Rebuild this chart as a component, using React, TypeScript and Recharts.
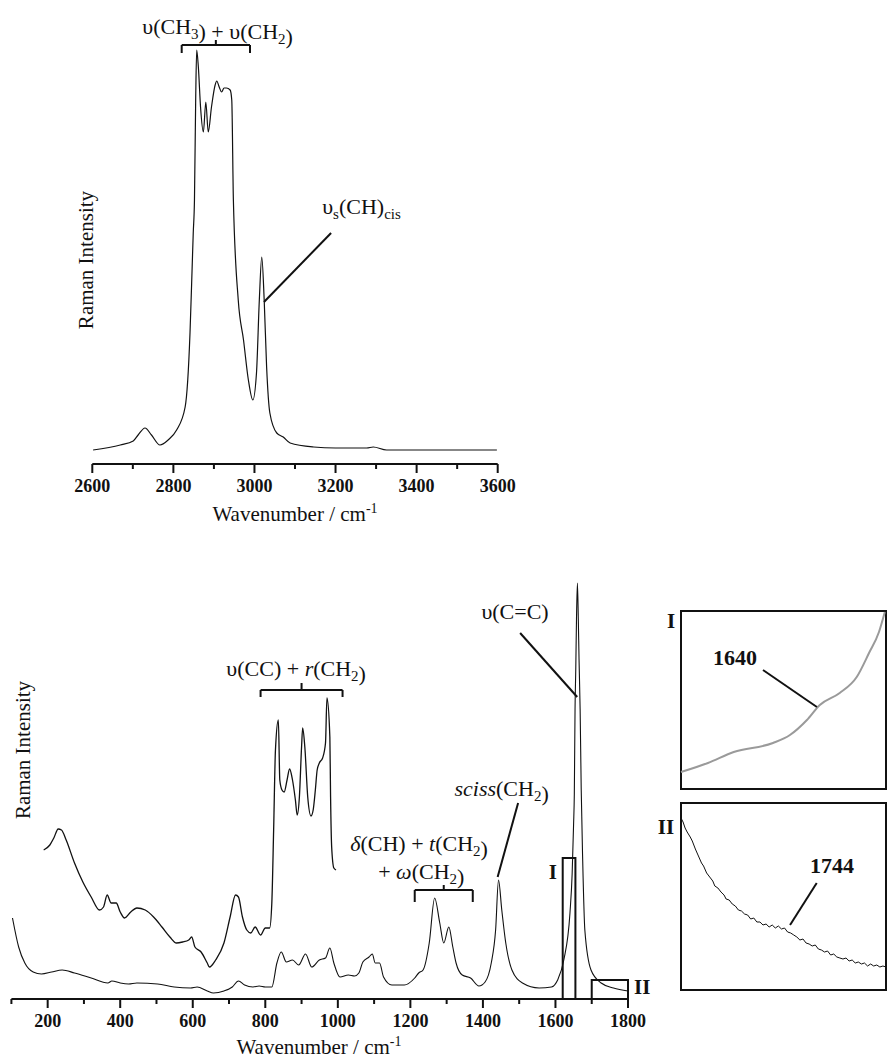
import React from 'react';
import { LineChart, Line, XAxis, YAxis, ReferenceLine, ReferenceDot, ReferenceArea } from 'recharts';

const FONT = '"Liberation Serif", "Times New Roman", serif';
const INK = '#111';

// C-H stretching region (upper panel)
const chWavenumber = [2602, 2669, 2701, 2713, 2730, 2746, 2767, 2787, 2808, 2829, 2841, 2845, 2849, 2852, 2855, 2857.5, 2861.6, 2867, 2874, 2880, 2886, 2894, 2903, 2907, 2913, 2919, 2925, 2931, 2940, 2944, 2948, 2960, 2973, 2985, 2996, 3005, 3012, 3018, 3024, 3030, 3038, 3055, 3071, 3088, 3146, 3200, 3277, 3293, 3326, 3400, 3500, 3598];
const chIntensity = [14, 19, 23, 29, 36, 29, 19, 24, 34, 57, 131, 180, 231, 264, 364, 414, 397, 357, 332, 362, 332, 357, 379, 383, 377, 372, 376, 376, 374, 364, 264, 164, 124, 84, 64, 91, 164, 207, 164, 97, 51, 31, 27, 21, 17, 16, 16, 17, 14, 14, 14, 14];
const chTicks = [2600, 2700, 2800, 2900, 3000, 3100, 3200, 3300, 3400, 3500, 3600];
const chLabelled = [2600, 2800, 3000, 3200, 3400, 3600];

// fingerprint region (lower panel), full trace
const fpWavenumber = [103, 120, 137, 160, 183, 211, 240, 274, 320, 366, 377, 400, 423, 446, 503, 549, 594, 612, 640, 657, 686, 709, 726, 743, 766, 783, 800, 818, 832, 844, 858, 875, 892, 911, 928, 949, 966, 978, 989, 1006, 1029, 1046, 1058, 1069, 1086, 1095, 1103, 1115, 1126, 1149, 1183, 1212, 1223, 1235, 1252, 1267, 1281, 1292, 1306, 1317, 1326, 1343, 1366, 1389, 1406, 1423, 1435, 1443, 1452, 1463, 1480, 1509, 1555, 1589, 1606, 1623, 1640, 1646, 1650, 1652, 1654, 1656, 1658, 1660.5, 1663, 1665, 1668, 1671, 1675, 1681, 1698, 1726, 1760, 1800];
const fpIntensity = [81, 52, 36, 27, 25, 27, 29, 26, 21, 16, 18, 16, 15, 16, 15, 12, 11, 12, 8, 6, 8, 12, 18, 14, 12, 13, 12, 12, 36, 47, 37, 39, 34, 45, 32, 39, 41, 51, 36, 22, 24, 23, 26, 37, 42, 45, 36, 36, 22, 14, 14, 21, 26, 29, 56, 101, 76, 56, 72, 52, 36, 24, 21, 13, 17, 36, 69, 119, 89, 56, 29, 16, 11, 12, 19, 39, 86, 125, 175, 205, 290, 330, 380, 416, 380, 340, 290, 210, 140, 69, 29, 16, 11, 8];

// fingerprint region, magnified trace
const fpZoomWavenumber = [189, 206, 217, 229, 238, 251, 274, 297, 320, 343, 354, 364, 375, 389, 400, 412, 429, 446, 469, 492, 515, 537, 555, 572, 589, 597, 606, 623, 640, 646, 663, 686, 703, 718, 726, 737, 749, 760, 772, 787, 800, 812, 818, 823, 828, 836, 840, 846, 852, 860, 867, 875, 883, 888, 894, 900, 903, 909, 917, 926, 932, 938, 943, 949, 958, 966, 970, 978, 980, 983, 989, 995];
const fpZoomIntensity = [149, 154, 161, 170, 169, 159, 136, 117, 102, 89, 92, 104, 96, 96, 87, 81, 87, 91, 89, 82, 72, 62, 56, 57, 59, 62, 52, 47, 36, 32, 39, 56, 82, 104, 102, 82, 69, 66, 72, 64, 71, 71, 96, 169, 249, 279, 219, 209, 207, 219, 230, 219, 199, 184, 202, 252, 271, 252, 202, 183, 189, 209, 229, 236, 241, 256, 301, 262, 202, 152, 131, 129];
const fpTicks = [100, 200, 300, 400, 500, 600, 700, 800, 900, 1000, 1100, 1200, 1300, 1400, 1500, 1600, 1700, 1800];
const fpLabelled = [200, 400, 600, 800, 1000, 1200, 1400, 1600, 1800];

// inset I (1620-1655 cm-1)
const insetIWavenumber = [1620, 1624.6, 1629, 1635.7, 1638.6, 1641.5, 1643.7, 1647.1, 1650, 1652.1, 1653.8, 1654.8];
const insetIIntensity = [17, 26, 37, 46, 54, 69, 84, 96, 112, 136, 157, 177];

// inset II (1700-1800 cm-1)
const insetIIWavenumber = [1700, 1701, 1702, 1703, 1704.5, 1705.5, 1707, 1708.5, 1710, 1711, 1712.5, 1714, 1715.5, 1716.5, 1718, 1719.5, 1721, 1722, 1723.5, 1725, 1726.5, 1728, 1729.5, 1731, 1732.5, 1734, 1735.5, 1737, 1738.5, 1740, 1741.5, 1743, 1744.5, 1746, 1747.5, 1749, 1750.5, 1752, 1753.5, 1755, 1756.5, 1758, 1759.5, 1761, 1762.5, 1764, 1765.5, 1767, 1768.5, 1770, 1771.5, 1773, 1774.5, 1776, 1777.5, 1779, 1780.5, 1782, 1783.5, 1785, 1786.5, 1788, 1789.5, 1791, 1792.5, 1794, 1795.5, 1797, 1798.5, 1800];
const insetIIIntensity = [172, 168, 162, 158, 153, 149, 141, 134, 127, 124, 117, 113, 109, 104, 102, 98, 95, 91, 90, 86, 84, 80, 79, 76, 75, 71, 72, 68, 68, 65, 66, 63, 65, 62, 64, 61, 62, 58, 57, 55, 53, 50, 51, 47, 46, 44, 45, 41, 40, 38, 39, 35, 36, 33, 32, 31, 32, 29, 30, 27, 28, 26, 27, 24, 26, 24, 25, 23, 24, 23];

const toRows = (xs: number[], ys: number[]) => xs.map((wn, i) => ({ wn, v: ys[i] }));

const makeTick = (labelled: number[]) => (props: any) => {
  const { x, y, payload } = props;
  const major = labelled.includes(payload.value);
  return (
    <g>
      <line x1={x} x2={x} y1={y} y2={y + (major ? 9 : 5)} stroke={INK} strokeWidth={2} />
      {major && (
        <text x={x} y={y + 28} textAnchor="middle" fontFamily={FONT} fontWeight="bold" fontSize={18} fill={INK}>
          {payload.value}
        </text>
      )}
    </g>
  );
};

const note = (key: string, x: number, y: number, content: React.ReactNode, size = 22, bold = false, rotate = false) => (
  <ReferenceDot
    key={key}
    x={x}
    y={y}
    r={0}
    ifOverflow="visible"
    shape={(p: any) => (
      <text
        x={p.cx}
        y={p.cy}
        textAnchor="middle"
        fontFamily={FONT}
        fontSize={size}
        fontWeight={bold ? 'bold' : 'normal'}
        fill={INK}
        transform={rotate ? `rotate(-90 ${p.cx} ${p.cy})` : undefined}
      >
        {content}
      </text>
    )}
  />
);

const seg = (key: string, x1: number, y1: number, x2: number, y2: number) => (
  <ReferenceLine key={key} segment={[{ x: x1, y: y1 }, { x: x2, y: y2 }]} stroke={INK} strokeWidth={2} ifOverflow="visible" />
);

// bracket: horizontal bar, ends bent down, centre tick up
const brace = (key: string, x1: number, x2: number, y: number, drop: number, rise: number) => [
  seg(key + 'h', x1, y, x2, y),
  seg(key + 'l', x1, y, x1, y - drop),
  seg(key + 'r', x2, y, x2, y - drop),
  seg(key + 'c', (x1 + x2) / 2, y, (x1 + x2) / 2, y + rise),
];

const sub = (t: string) => (
  <>
    <tspan dy={5} fontSize={15}>{t}</tspan>
    <tspan dy={-5}>{''}</tspan>
  </>
);

const App = () => {
  const chRows = toRows(chWavenumber, chIntensity);
  const fpRows = toRows(fpWavenumber, fpIntensity);
  const fpZoomRows = toRows(fpZoomWavenumber, fpZoomIntensity);
  const insetIRows = toRows(insetIWavenumber, insetIIntensity);
  const insetIIRows = toRows(insetIIWavenumber, insetIIIntensity);

  return (
    <div style={{ position: 'absolute', left: 0, top: 0, width: 888, height: 1058, background: '#fff' }}>
      {/* upper panel */}
      <div style={{ position: 'absolute', left: 0, top: 0 }}>
        <LineChart width={520} height={534} margin={{ top: 10, right: 22.3, bottom: 0, left: 92.3 }}>
          <XAxis
            dataKey="wn"
            type="number"
            domain={[2600, 3600]}
            ticks={chTicks}
            interval={0}
            tickLine={false}
            tickSize={0}
            tickMargin={0}
            height={70}
            axisLine={{ stroke: INK, strokeWidth: 2 }}
            tick={makeTick(chLabelled)}
          />
          <YAxis hide width={0} domain={[0, 454]} />
          <Line data={chRows} dataKey="v" type="monotone" stroke={INK} strokeWidth={1.2} dot={false} isAnimationActive={false} />
          {brace('b1', 2820.5, 2989, 419, 8, 5)}
          {note('t1', 2909, 430, <>υ(CH{sub('3')}) + υ(CH{sub('2')})</>)}
          {seg('l1', 3189, 231, 3023.5, 162)}
          {note('t2', 3264, 250, <>υ<tspan dy={5} fontSize={15}>s</tspan><tspan dy={-5}>(CH)</tspan><tspan dy={5} fontSize={15}>cis</tspan></>)}
          {note('ya', 2601.7, 204, 'Raman Intensity', 21, false, true)}
          {note('xa', 3100, -57, <>Wavenumber / cm<tspan dy={-8} fontSize={14}>-1</tspan></>, 21)}
        </LineChart>
      </div>

      {/* lower panel */}
      <div style={{ position: 'absolute', left: 0, top: 540 }}>
        <LineChart width={660} height={519} margin={{ top: 20, right: 32, bottom: 0, left: 11.4 }}>
          <XAxis
            dataKey="wn"
            type="number"
            domain={[100, 1800]}
            ticks={fpTicks}
            interval={0}
            tickLine={false}
            tickSize={0}
            tickMargin={0}
            height={60}
            axisLine={{ stroke: INK, strokeWidth: 2 }}
            tick={makeTick(fpLabelled)}
          />
          <YAxis hide width={0} domain={[0, 439]} />
          <Line data={fpRows} dataKey="v" type="monotone" stroke={INK} strokeWidth={1.1} dot={false} isAnimationActive={false} />
          <Line data={fpZoomRows} dataKey="v" type="monotone" stroke={INK} strokeWidth={1.3} dot={false} isAnimationActive={false} />
          <ReferenceArea x1={1620} x2={1655} y1={0} y2={141} fill="none" stroke={INK} strokeWidth={2} ifOverflow="visible" />
          <ReferenceArea x1={1700} x2={1800} y1={0} y2={19} fill="none" stroke={INK} strokeWidth={2} ifOverflow="visible" />
          {note('r1', 1593, 120, 'I', 21, true)}
          {note('r2', 1839, 5, 'II', 21, true)}
          {brace('b2', 787, 1013, 309, 7, 7)}
          {note('t3', 885, 323, <>υ(CC) + <tspan fontStyle="italic">r</tspan>(CH{sub('2')})</>)}
          {note('t4', 1488.6, 380, 'υ(C=C)')}
          {seg('l2', 1502.6, 366, 1660, 302)}
          {note('t5', 1451.6, 203, <><tspan fontStyle="italic">sciss</tspan>(CH{sub('2')})</>)}
          {seg('l3', 1497, 196, 1440.6, 122)}
          {note('t6', 1224, 148, <><tspan fontStyle="italic">δ</tspan>(CH) + <tspan fontStyle="italic">t</tspan>(CH{sub('2')})</>)}
          {note('t7', 1230, 120, <>+ <tspan fontStyle="italic">ω</tspan>(CH{sub('2')})</>)}
          {brace('b3', 1212, 1372, 109, 12, 5)}
          {note('ya2', 151.3, 249, 'Raman Intensity', 21, false, true)}
          {note('xa2', 948, -55, <>Wavenumber / cm<tspan dy={-8} fontSize={14}>-1</tspan></>, 21)}
        </LineChart>
      </div>

      {/* inset I */}
      <div style={{ position: 'absolute', left: 650, top: 600 }}>
        <LineChart width={238} height={200} margin={{ top: 11, right: 2, bottom: 11, left: 31 }}>
          <XAxis hide height={0} dataKey="wn" type="number" domain={[1620, 1655]} />
          <YAxis hide width={0} domain={[0, 178]} />
          <ReferenceArea x1={1620} x2={1655} y1={0} y2={178} fill="none" stroke={INK} strokeWidth={2} ifOverflow="visible" />
          <Line data={insetIRows} dataKey="v" type="monotone" stroke="#9a9a9a" strokeWidth={2} dot={false} isAnimationActive={false} />
          {note('i1', 1618.3, 161, 'I', 21, true)}
          {note('i2', 1629.2, 124, '1640', 22, true)}
          {seg('il', 1634, 119, 1643.2, 82)}
        </LineChart>
      </div>

      {/* inset II */}
      <div style={{ position: 'absolute', left: 650, top: 792 }}>
        <LineChart width={238} height={210} margin={{ top: 11, right: 2, bottom: 12, left: 31 }}>
          <XAxis hide height={0} dataKey="wn" type="number" domain={[1700, 1800]} />
          <YAxis hide width={0} domain={[0, 187]} />
          <ReferenceArea x1={1700} x2={1800} y1={0} y2={187} fill="none" stroke={INK} strokeWidth={2} ifOverflow="visible" />
          <Line data={insetIIRows} dataKey="v" type="linear" stroke={INK} strokeWidth={1} dot={false} isAnimationActive={false} />
          {note('j1', 1692.7, 156, 'II', 21, true)}
          {note('j2', 1773.7, 117, '1744', 22, true)}
          {seg('jl', 1766.2, 107, 1753.2, 65)}
        </LineChart>
      </div>
    </div>
  );
};

export default App;
